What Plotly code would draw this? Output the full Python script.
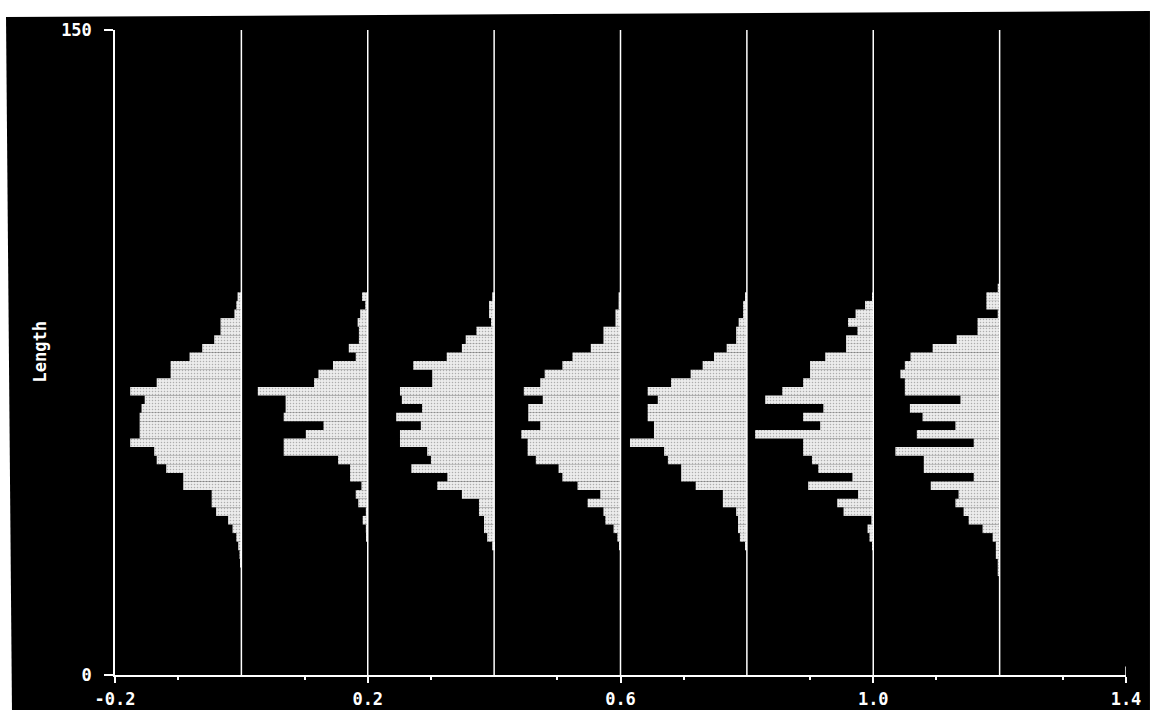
import plotly.graph_objects as go

# Bin centres of the length histograms (bin width 2)
length_bins = [24, 26, 28, 30, 32, 34, 36, 38, 40, 42, 44, 46, 48, 50, 52, 54, 56,
               58, 60, 62, 64, 66, 68, 70, 72, 74, 76, 78, 80, 82, 84, 86, 88, 90]
bin_width = 2

# Baseline (x position) of each histogram
baselines = [0.0, 0.2, 0.4, 0.6, 0.8, 1.0, 1.2]

# Relative frequency of each bin, one list per histogram (bins ascending)
hist_0 = [0, 0.002, 0.003, 0.005, 0.008, 0.014, 0.021, 0.040, 0.047, 0.047, 0.092, 0.092,
          0.119, 0.134, 0.138, 0.176, 0.161, 0.161, 0.161, 0.158, 0.153, 0.176, 0.134,
          0.112, 0.112, 0.082, 0.062, 0.043, 0.033, 0.033, 0.011, 0.008, 0.006, 0]
hist_1 = [0, 0, 0, 0, 0.002, 0.003, 0.008, 0.003, 0.015, 0.019, 0.010, 0.028, 0.028,
          0.047, 0.133, 0.133, 0.098, 0.070, 0.133, 0.130, 0.130, 0.174, 0.085, 0.078,
          0.055, 0.019, 0.030, 0.014, 0.014, 0.016, 0.012, 0.004, 0.009, 0]
hist_2 = [0, 0, 0, 0.003, 0.011, 0.016, 0.016, 0.024, 0.024, 0.051, 0.090, 0.074, 0.131,
          0.100, 0.106, 0.149, 0.149, 0.116, 0.155, 0.114, 0.146, 0.149, 0.098, 0.098,
          0.128, 0.075, 0.051, 0.045, 0.028, 0.005, 0.008, 0.008, 0.003, 0]
hist_3 = [0, 0, 0, 0.002, 0.005, 0.011, 0.024, 0.027, 0.052, 0.032, 0.068, 0.092, 0.098,
          0.134, 0.147, 0.147, 0.157, 0.127, 0.146, 0.146, 0.123, 0.153, 0.127, 0.120,
          0.092, 0.076, 0.047, 0.027, 0.027, 0.008, 0.008, 0.003, 0.003, 0]
hist_4 = [0, 0, 0, 0.003, 0.011, 0.014, 0.014, 0.017, 0.038, 0.038, 0.081, 0.104, 0.104,
          0.125, 0.131, 0.185, 0.147, 0.147, 0.157, 0.157, 0.141, 0.157, 0.120, 0.089,
          0.070, 0.052, 0.032, 0.017, 0.017, 0.013, 0.006, 0.006, 0.002, 0]
hist_5 = [0, 0, 0, 0.002, 0.006, 0.009, 0.003, 0.047, 0.057, 0.024, 0.103, 0.033, 0.087,
          0.097, 0.111, 0.111, 0.187, 0.084, 0.111, 0.079, 0.171, 0.144, 0.111, 0.100,
          0.100, 0.076, 0.043, 0.043, 0.025, 0.040, 0.028, 0.013, 0.002, 0]
hist_6 = [0.003, 0.003, 0.006, 0.006, 0.011, 0.027, 0.049, 0.057, 0.070, 0.065, 0.109,
          0.041, 0.120, 0.120, 0.165, 0.041, 0.131, 0.070, 0.122, 0.142, 0.062, 0.150,
          0.150, 0.157, 0.150, 0.141, 0.106, 0.068, 0.035, 0.035, 0.003, 0.021, 0.021,
          0.003]
histograms = [hist_0, hist_1, hist_2, hist_3, hist_4, hist_5, hist_6]

# Axis ticks
x_ticks = [-0.2, 0.2, 0.6, 1.0, 1.4]
y_ticks = [0, 150]
x_range = [-0.2, 1.4]
y_range = [0, 150]

WHITE = "#ffffff"
BLACK = "#000000"
FONT = "DejaVu Sans Mono"

fig = go.Figure()

for base, freqs in zip(baselines, histograms):
    fig.add_trace(go.Bar(
        orientation="h",
        y=length_bins,
        x=[-f for f in freqs],
        base=base,
        width=bin_width,
        marker=dict(
            color="#e6e6e6",
            line=dict(width=0),
            pattern=dict(shape=".", fgcolor="#6e6e6e", bgcolor="#ececec",
                         size=3, solidity=0.2),
        ),
        showlegend=False,
        hoverinfo="skip",
    ))

shapes = []
# Scanned page: black chart area on white paper
shapes.append(dict(
    type="path", xref="paper", yref="paper", layer="below",
    path="M -0.1078 1.0202 L 1.0237 1.0295 L 1.0237 -0.0543 L -0.1019 -0.0543 Z",
    fillcolor=BLACK, line=dict(width=0),
))
# Vertical baseline of every histogram
for base in baselines:
    shapes.append(dict(
        type="line", xref="x", yref="y", x0=base, x1=base,
        y0=y_range[0], y1=y_range[1],
        line=dict(color=WHITE, width=1.5), layer="above",
    ))
# Closing tick at the right end of the x axis
shapes.append(dict(
    type="line", xref="x", yref="y", x0=x_range[1], x1=x_range[1],
    y0=0, y1=2, line=dict(color=WHITE, width=1.5),
))

fig.update_layout(
    width=1150, height=710,
    margin=dict(l=115, r=24, t=30, b=35, autoexpand=False),
    paper_bgcolor=WHITE,
    plot_bgcolor=BLACK,
    barmode="overlay",
    shapes=shapes,
    font=dict(family=FONT, color=WHITE, size=14),
    annotations=[dict(
        text="Length", xref="paper", yref="paper",
        x=-0.087, y=0.5, textangle=-90, showarrow=False,
        font=dict(family=FONT, size=17, color=WHITE, weight="bold"),
    )],
)

fig.update_xaxes(
    range=x_range, tickmode="array", tickvals=x_ticks,
    ticktext=[f"{v:.1f}" for v in x_ticks],
    showgrid=False, zeroline=False, automargin=False,
    showline=True, linecolor=WHITE, linewidth=1.5,
    ticks="outside", ticklen=6, tickwidth=1.5, tickcolor=WHITE,
    ticklabelstandoff=2,
    tickfont=dict(family=FONT, size=17, color=WHITE, weight="bold"),
    minor=dict(tick0=-0.1, dtick=0.2, ticks="outside", ticklen=3,
               tickcolor=WHITE, tickwidth=1.5),
)
fig.update_yaxes(
    range=y_range, tickmode="array", tickvals=y_ticks,
    showgrid=False, zeroline=False, automargin=False,
    showline=True, linecolor=WHITE, linewidth=1.5,
    ticks="outside", ticklen=9, tickwidth=1.5, tickcolor=WHITE,
    ticklabelstandoff=9,
    tickfont=dict(family=FONT, size=17, color=WHITE, weight="bold"),
)

fig.write_html("out.html")
